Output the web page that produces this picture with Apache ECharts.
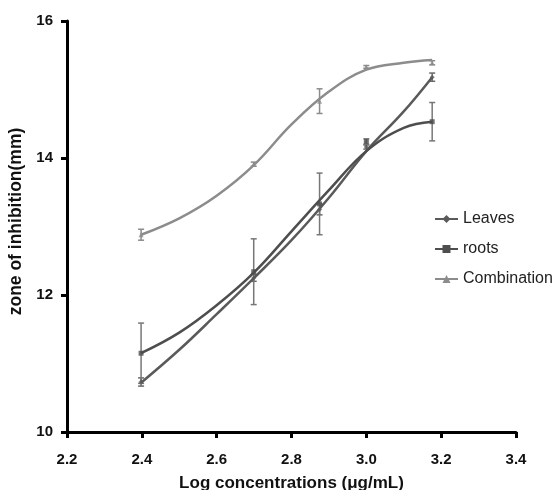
<!DOCTYPE html>
<html>
<head>
<meta charset="utf-8">
<script src="https://cdn.jsdelivr.net/npm/echarts@6/dist/echarts.min.js"></script>
<style>html,body{margin:0;padding:0;background:#fff}#c{width:559px;height:490px}</style>
</head>
<body>
<div id="c"></div>
<script>
// measured means and error bars (SD)
var xValues = [2.398, 2.699, 2.875, 3.0, 3.176];
var leavesMean = [10.73, 12.25, 13.25, 14.16, 15.18];
var leavesErr = [0.06, 0.05, 0.08, 0.03, 0.06];
var rootsMean = [11.15, 12.34, 13.33, 14.24, 14.53];
var rootsErr = [0.44, 0.48, 0.45, 0.04, 0.28];
var comboMean = [12.88, 13.91, 14.83, 15.33, 15.39];
var comboErr = [0.08, 0.03, 0.18, 0.02, 0.03];
// fitted curves, values
var fitX = [2.398, 2.5, 2.6, 2.7, 2.8, 2.9, 3.0, 3.1, 3.176];
var leavesFit = [10.72, 11.2, 11.72, 12.25, 12.8, 13.42, 14.1, 14.68, 15.18];
var rootsFit = [11.15, 11.45, 11.85, 12.33, 12.93, 13.53, 14.1, 14.44, 14.53];
var comboFit = [12.88, 13.12, 13.45, 13.9, 14.49, 14.97, 15.29, 15.39, 15.43];
var yTicks = [10, 12, 14, 16];
var xTicks = [2.2, 2.4, 2.6, 2.8, 3.0, 3.2, 3.4];

function pairs(xs, m) { return xs.map(function (x, i) { return [x, m[i]]; }); }
function errData(m, e) { return xValues.map(function (x, i) { return [x, m[i] - e[i], m[i] + e[i]]; }); }

function errSeries(name, m, e, color) {
  return {
    type: 'custom', name: name, silent: true, z: 1,
    data: errData(m, e),
    renderItem: function (params, api) {
      var x = api.value(0);
      var lo = api.coord([x, api.value(1)]);
      var hi = api.coord([x, api.value(2)]);
      var w = 3;
      var st = { stroke: color, lineWidth: 1.5 };
      return {
        type: 'group', children: [
          { type: 'line', shape: { x1: lo[0], y1: lo[1], x2: hi[0], y2: hi[1] }, style: st },
          { type: 'line', shape: { x1: lo[0] - w, y1: lo[1], x2: lo[0] + w, y2: lo[1] }, style: st },
          { type: 'line', shape: { x1: hi[0] - w, y1: hi[1], x2: hi[0] + w, y2: hi[1] }, style: st }
        ]
      };
    }
  };
}

function fitSeries(name, f, color, symbol) {
  return {
    type: 'line', name: name, data: pairs(fitX, f), smooth: 0.4,
    symbol: symbol, symbolSize: 5, showSymbol: false, z: 3,
    lineStyle: { color: color, width: 2.5 },
    itemStyle: { color: color }
  };
}
function markSeries(name, m, color, symbol) {
  return {
    type: 'scatter', name: name, data: pairs(xValues, m),
    symbol: symbol, symbolSize: 5, z: 4, silent: true,
    itemStyle: { color: color }
  };
}

var chart = echarts.init(document.getElementById('c'));
chart.setOption({
  animation: false,
  grid: { left: 67, right: 43, top: 21, bottom: 58, outerBoundsMode: 'none', containLabel: false },
  legend: {
    data: ['Leaves', 'roots', 'Combination'],
    orient: 'vertical', left: 429, top: 206,
    itemWidth: 23, itemHeight: 10, itemGap: 14,
    textStyle: { fontFamily: 'Liberation Sans, Arial', fontSize: 16, color: '#222' }
  },
  xAxis: {
    type: 'value', min: 2.2, max: 3.4, interval: 0.2,
    name: 'Log concentrations (μg/mL)', nameLocation: 'middle', nameGap: 43,
    nameTextStyle: { fontFamily: 'Liberation Sans, Arial', fontWeight: 'bold', fontSize: 17, color: '#111' },
    axisLine: { lineStyle: { color: '#000', width: 3 } },
    axisTick: { length: 6, lineStyle: { color: '#000', width: 3 } },
    axisLabel: { margin: 20, fontFamily: 'Liberation Sans, Arial', fontWeight: 'bold', fontSize: 15, color: '#111',
      formatter: function (v) { return v.toFixed(1); } },
    splitLine: { show: false }
  },
  yAxis: {
    type: 'value', min: 10, max: 16, interval: 2,
    name: 'zone of inhibition(mm)', nameLocation: 'middle', nameGap: 37,
    nameTextStyle: { fontFamily: 'Liberation Sans, Arial', fontWeight: 'bold', fontSize: 17.5, color: '#111', padding: [0, 0, 0, 10] },
    axisLine: { show: true, lineStyle: { color: '#000', width: 3 } },
    axisTick: { show: true, length: 6, lineStyle: { color: '#000', width: 3 } },
    axisLabel: { margin: 14, fontFamily: 'Liberation Sans, Arial', fontWeight: 'bold', fontSize: 15, color: '#111' },
    splitLine: { show: false }
  },
  series: [
    fitSeries('Leaves', leavesFit, '#5a5a5a', 'diamond'),
    fitSeries('roots', rootsFit, '#4e4e4e', 'rect'),
    fitSeries('Combination', comboFit, '#8c8c8c', 'triangle'),
    markSeries('LeavesPts', leavesMean, '#5a5a5a', 'diamond'),
    markSeries('rootsPts', rootsMean, '#4e4e4e', 'rect'),
    markSeries('CombinationPts', comboMean, '#8c8c8c', 'triangle'),
    errSeries('LeavesErr', leavesMean, leavesErr, '#6a6a6a'),
    errSeries('rootsErr', rootsMean, rootsErr, '#777777'),
    errSeries('CombinationErr', comboMean, comboErr, '#8c8c8c')
  ]
});
</script>
</body>
</html>
